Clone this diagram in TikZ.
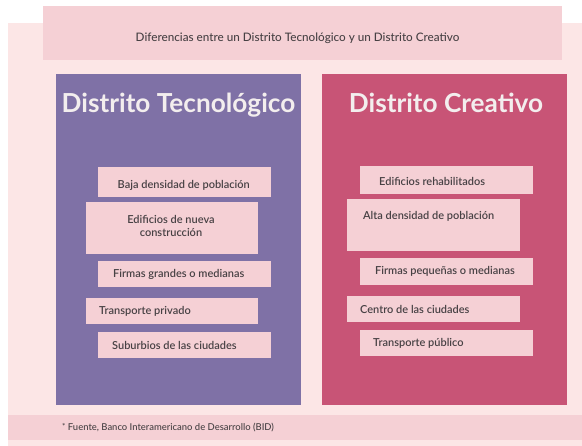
\documentclass[tikz,border=0pt]{standalone}
\usepackage{fontspec}
\setmainfont{Lato}
\IfFontExistsTF{Lato Semibold}{\newfontfamily\semifont{Lato Semibold}\newcommand\semisize{11}}{\newfontfamily\semifont{Lato Bold}\newcommand\semisize{10.4}}
\IfFontExistsTF{Lato Medium}{\newfontfamily\medfont{Lato Medium}\newcommand\titlesize{11.7}\newcommand\footsize{9.45}}{\newfontfamily\medfont{Lato}\newcommand\titlesize{11.9}\newcommand\footsize{9.6}}
\definecolor{bgpink}{HTML}{FCE6E6}
\definecolor{boxpink}{HTML}{F5D0D5}
\definecolor{techpurple}{HTML}{7F71A6}
\definecolor{creared}{HTML}{C85476}
\definecolor{txtgray}{HTML}{474144}
\definecolor{headwhite}{HTML}{F3EEEE}
\tikzset{
  panel/.style={inner sep=0pt, anchor=north west},
  itembox/.style={fill=boxpink, draw=none, inner sep=0pt, anchor=north west},
  itemtext/.style={text=txtgray, font=\semifont\fontsize{\semisize}{13}\selectfont, inner sep=0pt, anchor=west},
  headtext/.style={text=headwhite, font=\fontsize{26.2}{30}\selectfont\bfseries, inner sep=0pt},
  smalltext/.style={text=txtgray, inner sep=0pt},
}
\begin{document}
\begin{tikzpicture}[x=1pt,y=-1pt]
\useasboundingbox (0,0) rectangle (582,446);
\fill[white] (0,0) rectangle (582,446);
% background
\node[panel, fill=bgpink, minimum width=574pt, minimum height=423pt] (bg) at (8,23) {};
% title
\node[panel, fill=boxpink, minimum width=519pt, minimum height=54pt] (titlebox) at (43,6) {};
\node[smalltext, font=\medfont\fontsize{\titlesize}{13}\selectfont] (title) at (297.5,38) {Diferencias entre un Distrito Tecnológico y un Distrito Creativo};
% panels
\node[panel, fill=techpurple, minimum width=245pt, minimum height=331pt] (tech) at (56,74) {};
\node[panel, fill=creared, minimum width=245pt, minimum height=331pt] (crea) at (322,74) {};
\node[headtext, anchor=base] (techhead) at (178.5,113) {Distrito Tecnológico};
\node[headtext, anchor=base] (creahead) at (446,113) {Distrito Creativo};
% left items
\node[itembox, minimum width=173pt, minimum height=30pt] (t1) at (98,167) {};
\node[itemtext, anchor=base west] (t1t) at (117.5,188.3) {Baja densidad de población};
\node[itembox, minimum width=172pt, minimum height=52pt] (t2) at (86,202) {};
\node[itemtext, anchor=center, align=center] (t2t) at (171,225.5) {Edificios de nueva\\construcción};
\node[itembox, minimum width=173pt, minimum height=26pt] (t3) at (98,261) {};
\node[itemtext] (t3t) at (113,274) {Firmas grandes o medianas};
\node[itembox, minimum width=172pt, minimum height=26pt] (t4) at (86,298) {};
\node[itemtext] (t4t) at (99,311) {Transporte privado};
\node[itembox, minimum width=173pt, minimum height=26pt] (t5) at (98,332) {};
\node[itemtext] (t5t) at (112,345) {Suburbios de las ciudades};
% right items
\node[itembox, minimum width=173pt, minimum height=28pt] (c1) at (360,166) {};
\node[itemtext] (c1t) at (379,181) {Edificios rehabilitados};
\node[itembox, minimum width=173pt, minimum height=52pt] (c2) at (347,199) {};
\node[itemtext] (c2t) at (363,216) {Alta densidad de población};
\node[itembox, minimum width=173pt, minimum height=27pt] (c3) at (360,258) {};
\node[itemtext] (c3t) at (375,271) {Firmas pequeñas o medianas};
\node[itembox, minimum width=173pt, minimum height=26pt] (c4) at (347,296) {};
\node[itemtext] (c4t) at (360,309) {Centro de las ciudades};
\node[itembox, minimum width=173pt, minimum height=26pt] (c5) at (360,330) {};
\node[itemtext] (c5t) at (373,343) {Transporte público};
% footer
\node[panel, fill=boxpink, minimum width=574pt, minimum height=25pt] (footer) at (8,415) {};
\node[smalltext, font=\medfont\fontsize{\footsize}{12}\selectfont, anchor=west] (foot) at (62,427.5) {\raisebox{1.5pt}{\fontsize{8}{9}\selectfont *} Fuente, Banco Interamericano de Desarrollo (BID)};
\end{tikzpicture}
\end{document}
